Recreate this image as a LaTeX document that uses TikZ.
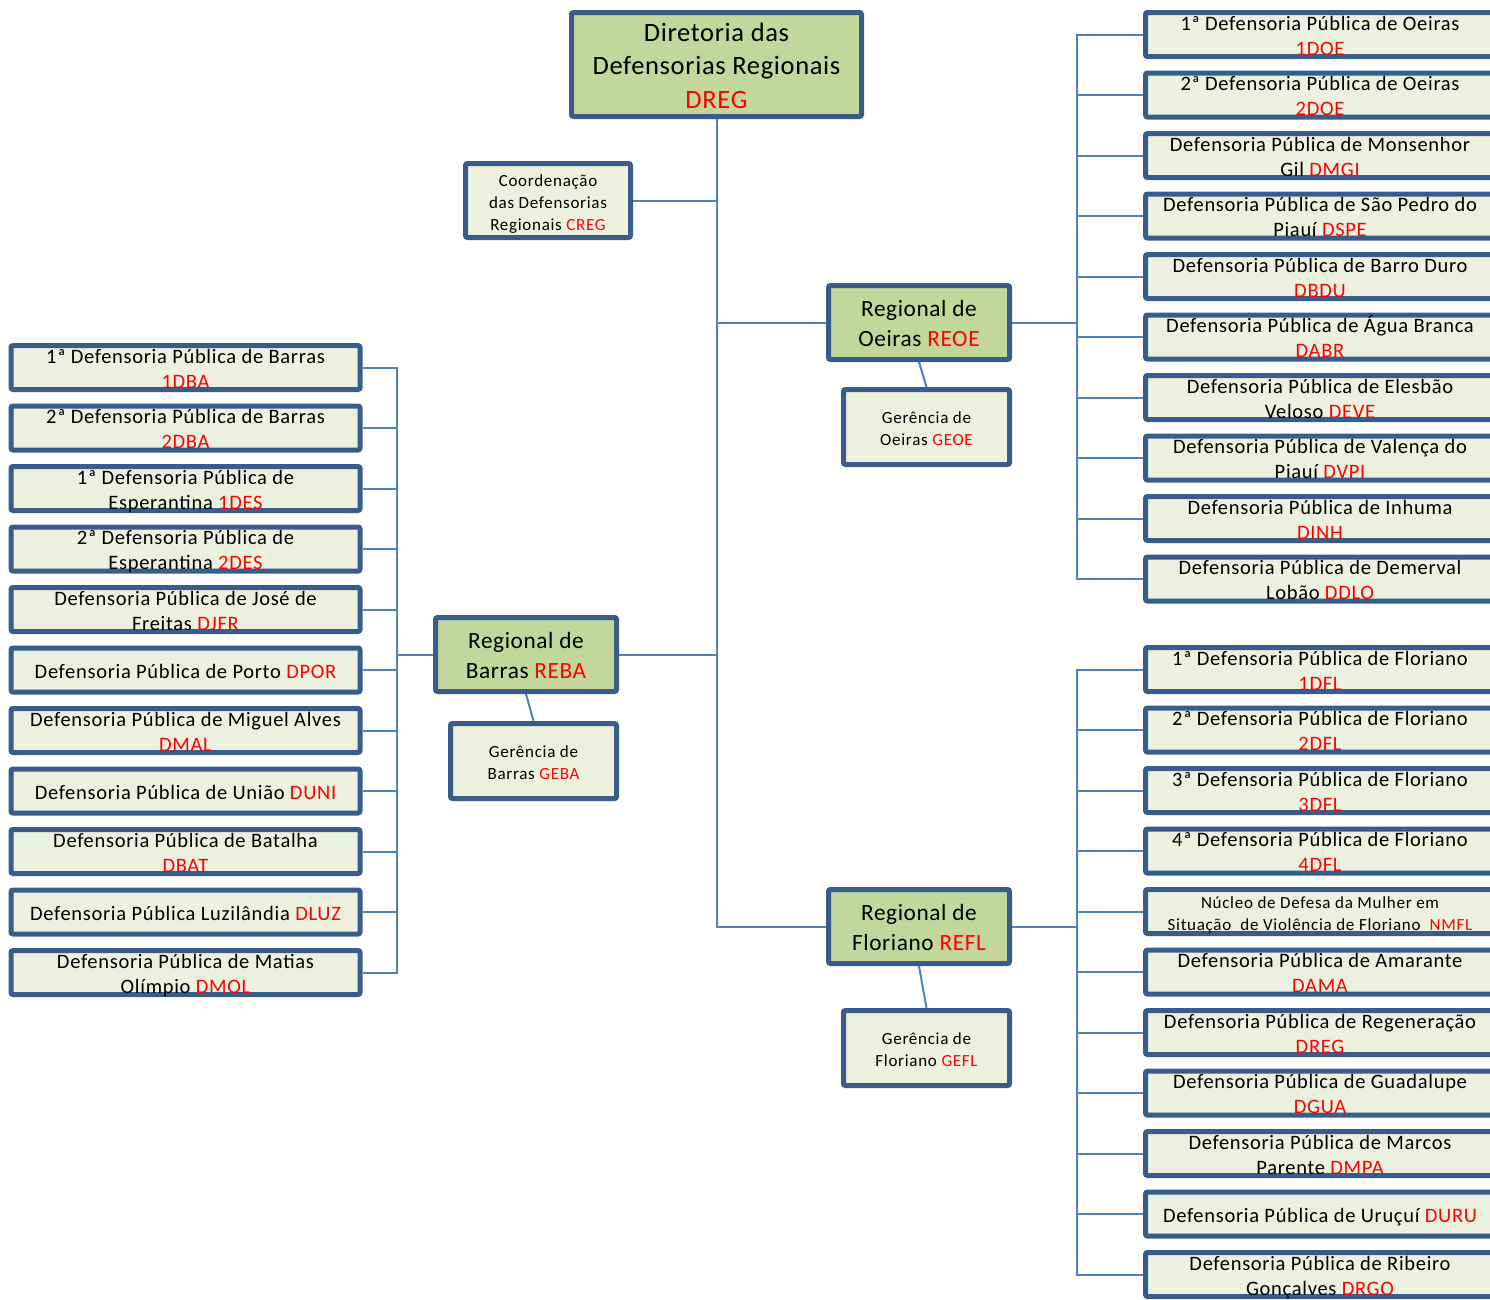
\documentclass[tikz,border=0pt]{standalone}
\usepackage{fontspec}
\setmainfont{Carlito}
\newfontfamily\letracaixa[LetterSpace=3.4]{Carlito}
\newfontfamily\letratitulo[LetterSpace=2.5]{Carlito}
\newfontfamily\letrapequena[LetterSpace=4.2]{Carlito}
\usetikzlibrary{backgrounds}
\definecolor{borda}{HTML}{385D8A}
\definecolor{claro}{HTML}{EBF1DE}
\definecolor{verde}{HTML}{C3D69B}
\definecolor{linha}{HTML}{4F81BD}
\newcommand{\sigla}[1]{\textcolor{red}{#1}}
\newcommand{\linhas}[1]{\begin{tabular}{@{}c@{}}#1\end{tabular}}
\tikzset{
  moldura/.style={draw=borda, line width=5pt, rounded corners=2pt},
  caixa/.style={moldura, fill=claro, minimum width=349, minimum height=44, inner sep=0pt},
  diretoria/.style={moldura, fill=verde, minimum width=290, minimum height=104, inner sep=0pt},
  regional/.style={moldura, fill=verde, minimum width=181, minimum height=74, inner sep=0pt},
  gerencia/.style={moldura, fill=claro, minimum width=166, minimum height=75, inner sep=0pt},
  texto/.style={inner sep=0pt, font=\letracaixa\fontsize{20.5}{25}\selectfont},
  pequeno/.style={inner sep=0pt, font=\letrapequena\fontsize{17}{22}\selectfont},
  ligacao/.style={draw=linha, line width=2pt}
}
\begin{document}
\begin{tikzpicture}[x=1pt, y=-1pt]
  \useasboundingbox (0,0) rectangle (1490,1299);

  %%%%% TOPO %%%%%
  \node[diretoria] (dreg) at (716.5,64.5) {};
  \node[texto, font=\letratitulo\fontsize{26.5}{33.5}\selectfont] (tdreg) at ([yshift=-3.3pt]dreg.center)
    {\linhas{Diretoria das\\Defensorias Regionais\\\sigla{DREG}}};
  \node[gerencia, minimum width=165, minimum height=74] (creg) at (548,200.5) {};
  \node[pequeno] (tcreg) at ([yshift=-3.3pt]creg.center)
    {\linhas{Coordenação\\das Defensorias\\Regionais \sigla{CREG}}};

  %%%%% REGIONAIS %%%%%
  \foreach \n/\x/\y/\t in {reoe/919/322.5/{Oeiras \sigla{REOE}},
      reba/526/654.5/{Barras \sigla{REBA}}, refl/919/926.5/{Floriano \sigla{REFL}}}{
    \node[regional] (\n) at (\x,\y) {};
    \node[texto, font=\letratitulo\fontsize{23.3}{30}\selectfont] (t\n) at ([yshift=-2.5pt]\n.center)
      {\linhas{Regional de\\\t}};
  }

  \foreach \n/\x/\y/\t in {geoe/926.5/427/{Oeiras \sigla{GEOE}},
      geba/533.5/761/{Barras \sigla{GEBA}}, gefl/926.5/1048/{Floriano \sigla{GEFL}}}{
    \node[gerencia] (\n) at (\x,\y) {};
    \node[pequeno] (t\n) at ([yshift=-2.6pt]\n.center) {\linhas{Gerência de\\\t}};
  }

  \coordinate (busoe) at (1077,0);
  \coordinate (busba) at (397,0);

  %%%%% OEIRAS %%%%%
  \foreach \i/\t in {1/{1ª Defensoria Pública de Oeiras\\\sigla{1DOE}},
      2/{2ª Defensoria Pública de Oeiras\\\sigla{2DOE}},
      3/{Defensoria Pública de Monsenhor\\Gil \sigla{DMGI}},
      4/{Defensoria Pública de São Pedro do\\Piauí \sigla{DSPE}},
      5/{Defensoria Pública de Barro Duro\\\sigla{DBDU}},
      6/{Defensoria Pública de Água Branca\\\sigla{DABR}},
      7/{Defensoria Pública de Elesbão\\Veloso \sigla{DEVE}},
      8/{Defensoria Pública de Valença do\\Piauí \sigla{DVPI}},
      9/{Defensoria Pública de Inhuma\\\sigla{DINH}},
      10/{Defensoria Pública de Demerval\\Lobão \sigla{DDLO}}}{
    \node[caixa] (oe\i) at (1320,{34.5+60.5*(\i-1)}) {};
    \node[texto] (toe\i) at ([yshift=-3.3pt]oe\i.center) {\linhas{\t}};
  }

  %%%%% FLORIANO %%%%%
  \foreach \i/\t in {1/{1ª Defensoria Pública de Floriano\\\sigla{1DFL}},
      2/{2ª Defensoria Pública de Floriano\\\sigla{2DFL}},
      3/{3ª Defensoria Pública de Floriano\\\sigla{3DFL}},
      4/{4ª Defensoria Pública de Floriano\\\sigla{4DFL}},
      6/{Defensoria Pública de Amarante\\\sigla{DAMA}},
      7/{Defensoria Pública de Regeneração\\\sigla{DREG}},
      8/{Defensoria Pública de Guadalupe\\\sigla{DGUA}},
      9/{Defensoria Pública de Marcos\\Parente \sigla{DMPA}},
      10/{Defensoria Pública de Uruçuí \sigla{DURU}},
      11/{Defensoria Pública de Ribeiro\\Gonçalves \sigla{DRGO}}}{
    \node[caixa] (fl\i) at (1320,{669.5+60.5*(\i-1)}) {};
    \node[texto] (tfl\i) at ([yshift=-3.3pt]fl\i.center) {\linhas{\t}};
  }
  \node[caixa] (fl5) at (1320,911.5) {};
  \node[pequeno] (tfl5) at ([yshift=-3.1pt]fl5.center)
    {\linhas{Núcleo de Defesa da Mulher em\\Situação~ de Violência de Floriano~ \sigla{NMFL}}};

  %%%%% BARRAS %%%%%
  \foreach \i/\t in {1/{1ª Defensoria Pública de Barras\\\sigla{1DBA}},
      2/{2ª Defensoria Pública de Barras\\\sigla{2DBA}},
      3/{1ª Defensoria Pública de\\Esperantina \sigla{1DES}},
      4/{2ª Defensoria Pública de\\Esperantina \sigla{2DES}},
      5/{Defensoria Pública de José de\\Freitas \sigla{DJFR}},
      6/{Defensoria Pública de Porto \sigla{DPOR}},
      7/{Defensoria Pública de Miguel Alves\\\sigla{DMAL}},
      8/{Defensoria Pública de União \sigla{DUNI}},
      9/{Defensoria Pública de Batalha\\\sigla{DBAT}},
      10/{Defensoria Pública Luzilândia \sigla{DLUZ}},
      11/{Defensoria Pública de Matias\\Olímpio \sigla{DMOL}}}{
    \node[caixa] (ba\i) at (185.5,{367.5+60.5*(\i-1)}) {};
    \node[texto] (tba\i) at ([yshift=-3.3pt]ba\i.center) {\linhas{\t}};
  }

  %%%%% LIGACOES %%%%%
  \begin{scope}[on background layer]
    \draw[ligacao] (dreg.south) -- (dreg.south |- refl.west) -- (refl.west);
    \draw[ligacao] (creg.east) -- (creg.east -| dreg.south);
    \draw[ligacao] (reoe.west) -- (reoe.west -| dreg.south);
    \draw[ligacao] (reba.east) -- (reba.east -| dreg.south);
    \draw[ligacao] (reoe.south) -- (geoe.north);
    \draw[ligacao] (reba.south) -- (geba.north);
    \draw[ligacao] (refl.south) -- (gefl.north);
    \foreach \i in {1,...,10}
      \draw[ligacao] (reoe.east) -- (reoe.east -| busoe) |- (oe\i.west);
    \foreach \i in {1,...,11}
      \draw[ligacao] (refl.east) -- (refl.east -| busoe) |- (fl\i.west);
    \foreach \i in {1,...,11}
      \draw[ligacao] (reba.west) -- (reba.west -| busba) |- (ba\i.east);
  \end{scope}
\end{tikzpicture}
\end{document}
